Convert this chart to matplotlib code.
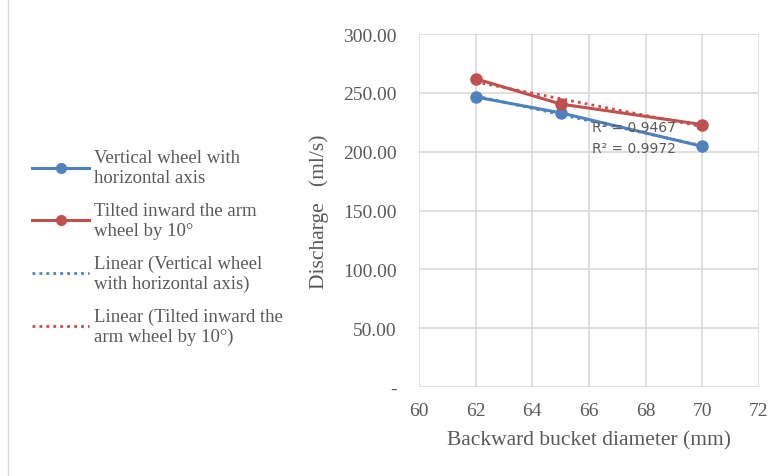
import numpy as np
import matplotlib.pyplot as plt
from matplotlib.lines import Line2D

diameter = [62, 65, 70]
vertical_wheel = [246.5, 233.0, 204.5]
tilted_wheel = [262.0, 240.5, 223.0]

blue = '#4F81BD'
red = '#C0504D'
grey_txt = '#595959'

plt.rcParams['font.family'] = ['Liberation Serif', 'DejaVu Serif']

fig = plt.figure(figsize=(7.81, 4.77), dpi=100)
ax = fig.add_axes([0.5365, 0.1866, 0.4353, 0.74])

l1, = ax.plot(diameter, vertical_wheel, marker='o', markersize=8, lw=2.2, color=blue, zorder=3)
l2, = ax.plot(diameter, tilted_wheel, marker='o', markersize=8, lw=2.2, color=red, zorder=3)

# linear trend lines
xs = np.array([diameter[0], diameter[-1]])
for ys, c in [(vertical_wheel, blue), (tilted_wheel, red)]:
    k, b = np.polyfit(diameter, ys, 1)
    ax.plot(xs, k * xs + b, ls=(0, (1, 1.5)), lw=2, color=c, zorder=4)

ax.text(66.1, 221, 'R² = 0.9467', family='DejaVu Sans', fontsize=10, color=grey_txt,
        va='center', zorder=5)
ax.text(66.1, 203, 'R² = 0.9972', family='DejaVu Sans', fontsize=10, color=grey_txt,
        va='center', zorder=5)

ax.set_xlim(60, 72)
ax.set_ylim(0, 300)
ax.set_xticks(range(60, 73, 2))
yt = np.arange(0, 301, 50)
ax.set_yticks(yt)
ax.set_yticklabels(['-'] + ['%.2f' % v for v in yt[1:]])
ax.grid(True, color='#d9d9d9', lw=1.2)
ax.set_axisbelow(True)
for s in ax.spines.values():
    s.set_visible(False)
ax.tick_params(length=0, labelsize=14, colors=grey_txt)
ax.tick_params(axis='y', pad=16)
ax.tick_params(axis='x', pad=11)
ax.set_xlabel('Backward bucket diameter (mm)', fontsize=15.5, color=grey_txt, labelpad=8)
ax.set_ylabel('Discharge   (ml/s)', fontsize=15.5, color=grey_txt, labelpad=10)

handles = [
    Line2D([], [], color=blue, lw=2.2, marker='o', markersize=7),
    Line2D([], [], color=red, lw=2.2, marker='o', markersize=7),
    Line2D([], [], color=blue, lw=2, ls=(0, (1, 1.5))),
    Line2D([], [], color=red, lw=2, ls=(0, (1, 1.5))),
]
labels = [
    'Vertical wheel with\nhorizontal axis',
    'Tilted inward the arm\nwheel by 10°',
    'Linear (Vertical wheel\nwith horizontal axis)',
    'Linear (Tilted inward the\narm wheel by 10°)',
]
leg = fig.legend(handles, labels, loc='upper left', bbox_to_anchor=(0.02, 0.72),
                 frameon=False, fontsize=13.5, handlelength=3.0, handletextpad=0.3,
                 labelspacing=0.85, labelcolor=grey_txt)

fig.add_artist(Line2D([0.010, 0.010], [0.0, 1.0], color='#d9d9d9', lw=1))

fig.savefig('out.png', dpi=100)
